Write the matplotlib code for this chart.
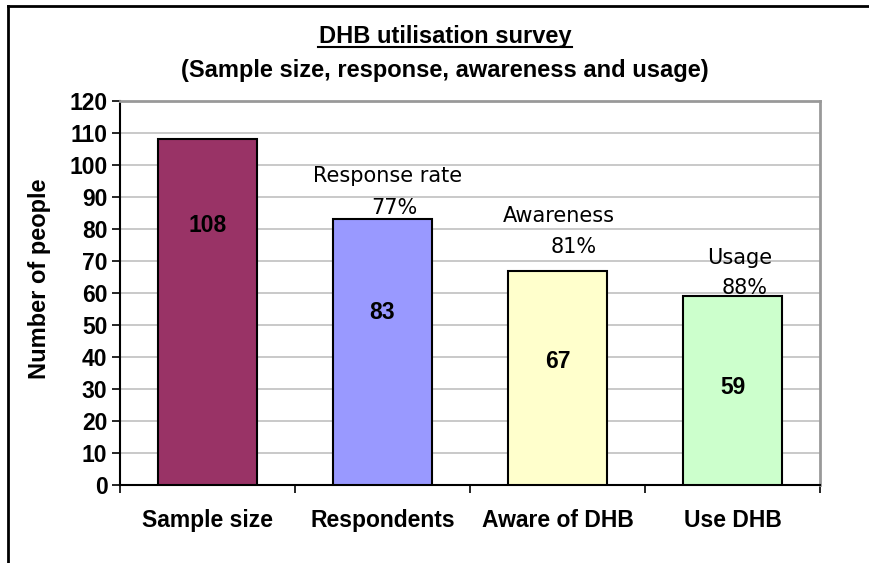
import matplotlib.pyplot as plt
from matplotlib.lines import Line2D

categories = ["Sample size", "Respondents", "Aware of DHB", "Use DHB"]
counts = [108, 83, 67, 59]
rate_names = ["Response rate", "Awareness", "Usage"]
rate_values = ["77%", "81%", "88%"]
yticks = list(range(0, 121, 10))

colors = ["#993366", "#9999FF", "#FFFFCC", "#CCFFCC"]

fig = plt.figure(figsize=(8.69, 5.63), dpi=100)
ax = fig.add_axes([120/869, 1-485/563, 700/869, 384/563])

x = range(len(categories))
ax.bar(x, counts, width=0.565, color=colors, edgecolor="black", linewidth=1.5, zorder=3)
ax.set_xlim(-0.5, len(categories) - 0.5)
ax.set_ylim(0, 120)

# value labels inside bars
label_y = [81, 54, 38.5, 30.5]
for i, v in enumerate(counts):
    ax.text(i, label_y[i], str(v), ha="center", va="center", fontsize=16.5,
            fontweight="bold", family="Liberation Sans", zorder=4)

# rate annotations above bars
name_pos = [(1.03, 96.5), (2.01, 84), (3.04, 71)]
pct_pos = [(1.07, 86.5), (2.09, 74.5), (3.07, 61.5)]
for i in range(3):
    ax.text(name_pos[i][0], name_pos[i][1], rate_names[i], ha="center", va="center",
            fontsize=15, family="DejaVu Sans", zorder=4)
    ax.text(pct_pos[i][0], pct_pos[i][1], rate_values[i], ha="center", va="center",
            fontsize=15, family="DejaVu Sans", zorder=4)

ax.set_yticks(yticks)
ax.set_yticklabels([str(t) for t in yticks], fontsize=16.5, fontweight="bold", family="Liberation Sans")
ax.set_xticks([i + 0.5 for i in range(-1, len(categories))], minor=False)
ax.set_xticklabels([])
ax.set_xticks(list(x), minor=True)
ax.set_xticklabels(categories, minor=True, fontsize=16.5, fontweight="bold", family="Liberation Sans")
ax.tick_params(axis="x", which="minor", length=0, pad=17)
ax.tick_params(axis="x", which="major", length=6, width=1.2, direction="out")
ax.tick_params(axis="y", length=6, width=1.2, direction="out", pad=3)

ax.grid(axis="y", color="#C0C0C0", linewidth=1.2, zorder=0)
ax.set_axisbelow(True)
for s in ["top", "right"]:
    ax.spines[s].set_color("#999999")
    ax.spines[s].set_linewidth(2)
for s in ["left", "bottom"]:
    ax.spines[s].set_color("black")
    ax.spines[s].set_linewidth(1.5)

ax.set_ylabel("Number of people", fontsize=17, fontweight="bold", family="Liberation Sans")
ax.yaxis.set_label_coords(-0.099, 0.536)

fig.text(445/869, 1-36/563, "DHB utilisation survey", ha="center", va="center",
         fontsize=17, fontweight="bold", family="Liberation Sans")
fig.add_artist(Line2D([318/869, 572/869], [1-47/563, 1-47/563], color="black", linewidth=1.5))
fig.text(445/869, 1-71/563, "(Sample size, response, awareness and usage)", ha="center", va="center",
         fontsize=17, fontweight="bold", family="Liberation Sans")

# chart border
fig.add_artist(Line2D([8/869, 1], [1-6/563, 1-6/563], color="black", linewidth=2))
fig.add_artist(Line2D([8/869, 8/869], [0, 1-6/563], color="black", linewidth=2))

fig.savefig("out.png", dpi=100)
